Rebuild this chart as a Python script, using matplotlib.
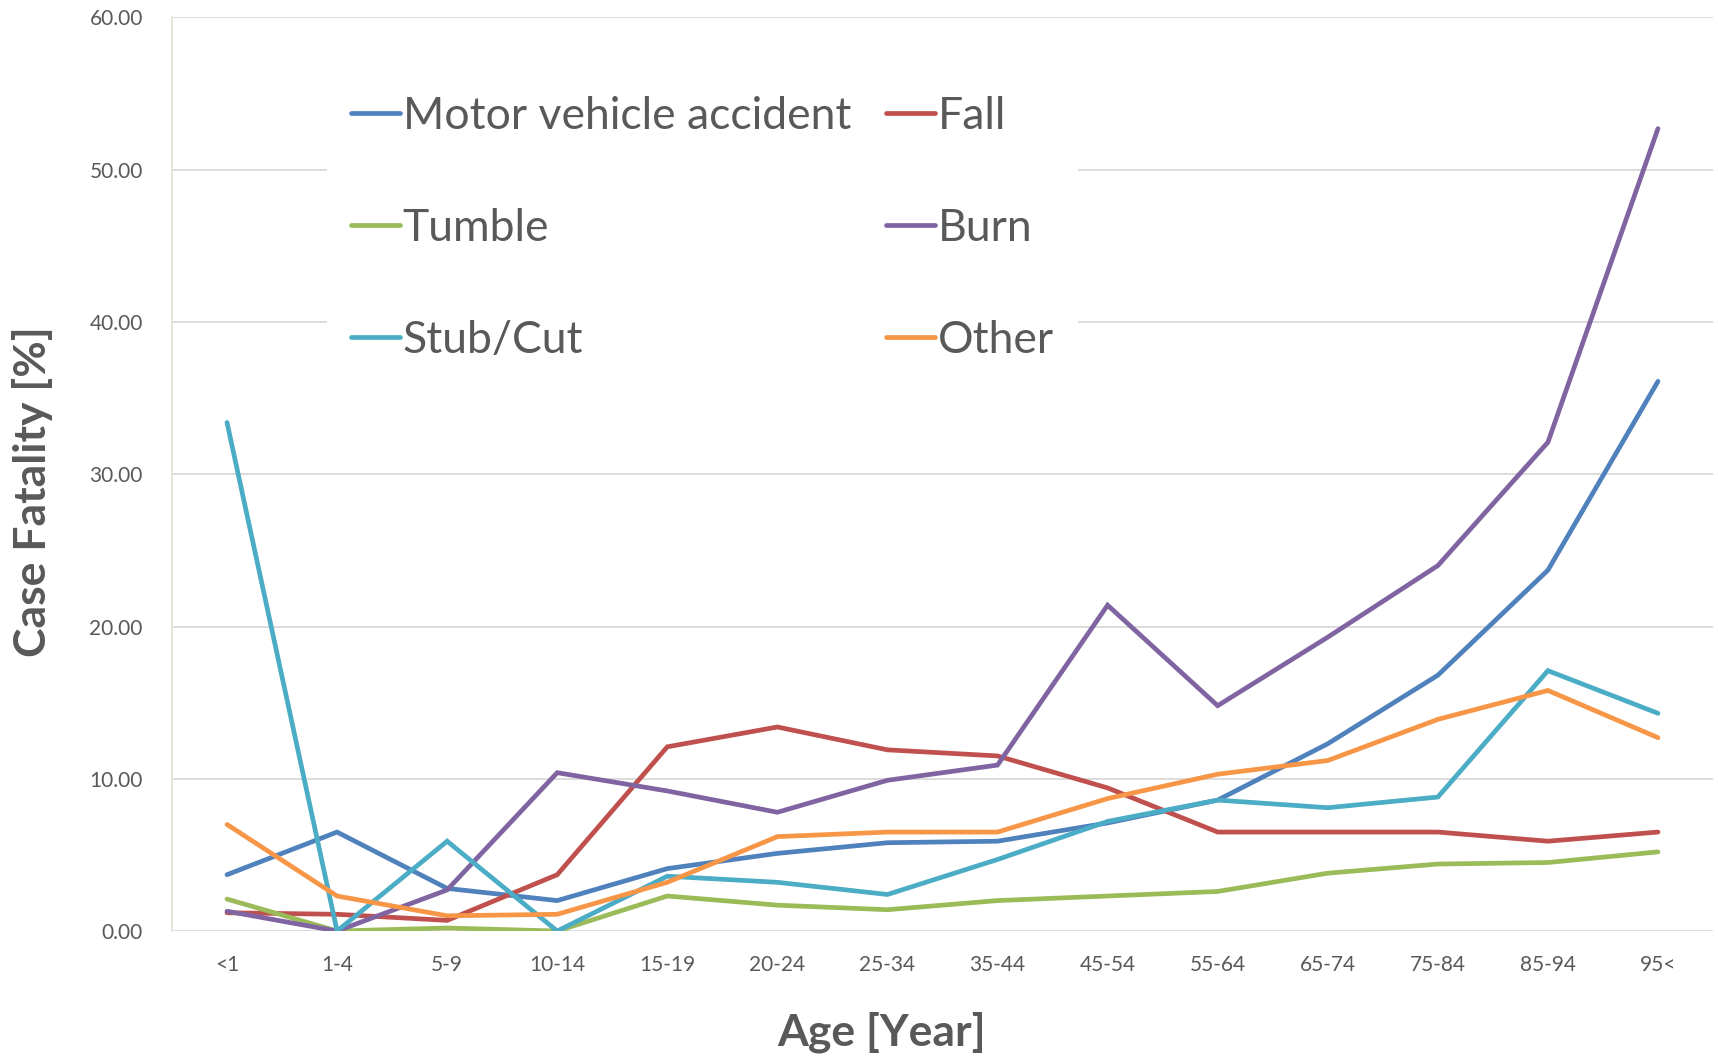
import numpy as np
import matplotlib
matplotlib.use('Agg')
import matplotlib.pyplot as plt

plt.rcParams['font.family'] = ['Lato', 'DejaVu Sans']

ages = ['<1', '1-4', '5-9', '10-14', '15-19', '20-24', '25-34', '35-44',
        '45-54', '55-64', '65-74', '75-84', '85-94', '95<']

motor = [3.7, 6.5, 2.8, 2.0, 4.1, 5.1, 5.8, 5.9, 7.1, 8.6, 12.3, 16.8, 23.7, 36.1]
fall = [1.2, 1.1, 0.7, 3.7, 12.1, 13.4, 11.9, 11.5, 9.4, 6.5, 6.5, 6.5, 5.9, 6.5]
tumble = [2.1, 0.0, 0.2, 0.0, 2.3, 1.7, 1.4, 2.0, 2.3, 2.6, 3.8, 4.4, 4.5, 5.2]
burn = [1.3, 0.0, 2.7, 10.4, 9.2, 7.8, 9.9, 10.9, 21.4, 14.8, 19.3, 24.0, 32.1, 52.7]
stub = [33.4, 0.0, 5.9, 0.0, 3.6, 3.2, 2.4, 4.7, 7.2, 8.6, 8.1, 8.8, 17.1, 14.3]
other = [7.0, 2.3, 1.0, 1.1, 3.2, 6.2, 6.5, 6.5, 8.7, 10.3, 11.2, 13.9, 15.8, 12.7]

series = [
    ('Motor vehicle accident', motor, '#4F81BD'),
    ('Fall', fall, '#C0504D'),
    ('Tumble', tumble, '#9BBB59'),
    ('Burn', burn, '#8064A2'),
    ('Stub/Cut', stub, '#4BACC6'),
    ('Other', other, '#F79646'),
]

txt = '#595959'
fig = plt.figure(figsize=(17.18, 10.58), dpi=100)
ax = fig.add_axes([0.1001, 0.12, 0.897, 0.8635])

x = np.arange(len(ages))
lines = {}
for name, vals, col in series:
    ln, = ax.plot(x, vals, color=col, lw=3.4, solid_capstyle='round',
                  solid_joinstyle='miter', label=name)
    lines[name] = ln

ax.set_xlim(-0.5, len(ages) - 0.5)
ax.set_ylim(0, 60)
ax.set_yticks(np.arange(0, 61, 10))
ax.set_yticklabels(['%.2f' % v for v in np.arange(0, 61, 10)])
ax.set_xticks(x)
ax.set_xticklabels(ages)
ax.tick_params(axis='both', length=0, labelsize=15, colors=txt)
ax.tick_params(axis='y', pad=21)
ax.tick_params(axis='x', pad=17)
ax.grid(axis='y', color='#D9D9D9', lw=1.3)
ax.set_axisbelow(True)
for s in ['top', 'right', 'bottom']:
    ax.spines[s].set_visible(False)
ax.spines['left'].set_color('#E6E0D6')
ax.spines['left'].set_linewidth(1.3)

# column-wise fill, so order the handles to read row by row
order = ['Motor vehicle accident', 'Tumble', 'Stub/Cut', 'Fall', 'Burn', 'Other']
leg = ax.legend([lines[n] for n in order], order, ncol=2, loc='upper left',
                bbox_to_anchor=(0.1006, 0.941), borderaxespad=0, frameon=True,
                fontsize=32, handlelength=1.1, handletextpad=0.05,
                columnspacing=0.8, labelspacing=1.6, borderpad=0.55,
                labelcolor=txt)
leg.get_frame().set_facecolor('white')
leg.get_frame().set_edgecolor('none')
leg.get_frame().set_alpha(1)
leg.get_frame().set_boxstyle('square', pad=0)

fig.text(0.019, 0.535, 'Case Fatality [%]', rotation=90, ha='center', va='center',
         fontsize=32, fontweight='bold', color=txt)
fig.text(0.513, 0.024, 'Age [Year]', ha='center', va='center',
         fontsize=32, fontweight='bold', color=txt)

fig.savefig('out.png', dpi=100, facecolor='white')
